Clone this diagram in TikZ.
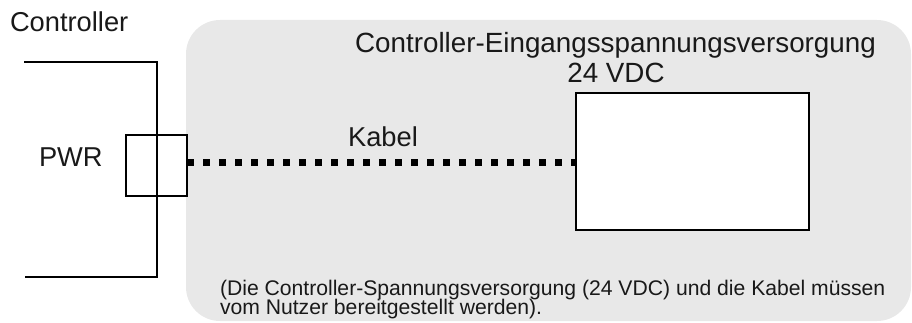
\documentclass[tikz,border=0pt]{standalone}
\usepackage{fontspec}
\setmainfont{Liberation Sans}
\begin{document}
\begin{tikzpicture}[x=1pt,y=-1pt,
  every node/.style={inner sep=0pt,outer sep=0pt,text=black!90},
  bigtext/.style={font=\fontsize{27.3}{30}\selectfont},
  titletext/.style={font=\fontsize{27.8}{30}\selectfont},
  smalltext/.style={font=\fontsize{21.15}{19.5}\selectfont},
  wire/.style={line width=1.4pt,black},
  boxline/.style={draw=black,line width=2pt},
  cable/.style={line width=7pt,black,dash pattern=on 7pt off 9pt}]
  \useasboundingbox (0,0) rectangle (912,323);
  % supply area
  \fill[black!9,rounded corners=34pt] (186,20) rectangle (911,321);
  % controller housing outline
  \draw[wire] (24,62) -| (157,277) -- (25,277);
  % connector and supply boxes
  \node[boxline,minimum width=61pt,minimum height=61pt] (pwr) at (156.5,165.5) {};
  \node[boxline,fill=white,minimum width=233pt,minimum height=137pt] (psu) at (692.5,161.5) {};
  \coordinate (cab) at (0,163);
  \draw[cable] (pwr.east |- cab) -- (psu.west |- cab);
  % labels
  \node[bigtext,anchor=base west] (lctrl) at (10,32) {Controller};
  \node[bigtext,anchor=base west] (lpwr) at (39,167) {PWR};
  \node[bigtext,anchor=base] (lkabel) at (383,147) {Kabel};
  \node[titletext,anchor=base] (ltitle) at (615.5,52.5) {Controller-Eingangsspannungsversorgung};
  \node[titletext,anchor=base] (lvdc) at (616,83) {24 VDC};
  \node[smalltext,anchor=base west] (lnote1) at (220,295) {(Die Controller-Spannungsversorgung (24 VDC) und die Kabel müssen};
  \node[smalltext,anchor=base west] (lnote2) at (220,314) {vom Nutzer bereitgestellt werden).};
\end{tikzpicture}
\end{document}
